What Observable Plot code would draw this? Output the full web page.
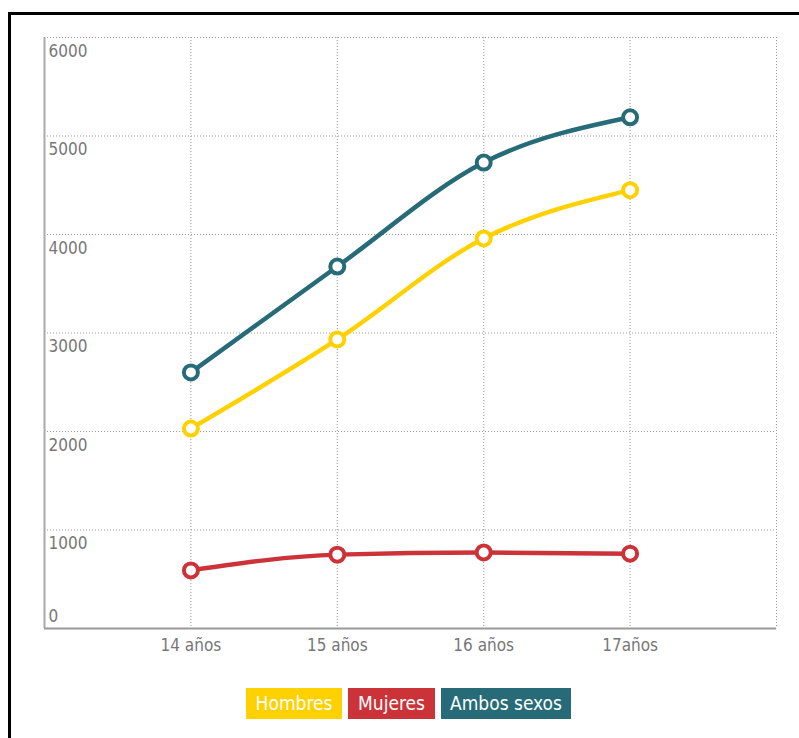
<!DOCTYPE html>
<html>
<head>
<meta charset="utf-8">
<script src="https://cdn.jsdelivr.net/npm/d3@7"></script>
<script src="https://cdn.jsdelivr.net/npm/@observablehq/plot@0.6"></script>
<style>
  html, body { margin: 0; padding: 0; background: #fff; width: 799px; height: 738px; overflow: hidden; }
  #frame { position: absolute; left: 8px; top: 12px; width: 900px; height: 900px; border: 3px solid #000; box-sizing: border-box; }
  #chart { position: absolute; left: 0; top: 0; }
  #legend { position: absolute; top: 688px; left: 246px; display: flex; gap: 6px; font-family: "DejaVu Sans Condensed", "Liberation Sans Narrow", sans-serif; font-stretch: condensed; font-size: 19px; color: #fff; }
  #legend div { height: 31px; line-height: 31px; text-align: center; }
</style>
</head>
<body>
<div id="frame"></div>
<div id="chart"></div>
<div id="legend"></div>
<script>
const ages = [14, 15, 16, 17];
const ageLabels = ["14 años", "15 años", "16 años", "17años"];
const hombres = [2030, 2935, 3960, 4450];
const mujeres = [590, 750, 772, 760];
const ambos = [2600, 3675, 4730, 5190];
const seriesNames = ["Hombres", "Mujeres", "Ambos sexos"];
const seriesColors = ["#FFD100", "#CC3339", "#266B77"];
const yTicks = [0, 1000, 2000, 3000, 4000, 5000, 6000];

const seriesValues = [hombres, mujeres, ambos];
const data = [];
seriesNames.forEach((s, i) => ages.forEach((a, j) => data.push({serie: s, age: a, value: seriesValues[i][j]})));

const font = "'DejaVu Sans Condensed', 'Liberation Sans Narrow', sans-serif";
const plot = Plot.plot({
  width: 799,
  height: 670,
  marginLeft: 44,
  marginRight: 23,
  marginTop: 37,
  marginBottom: 42,
  style: {fontFamily: font, fontSize: "16px", color: "#777", background: "transparent", fontStretch: "condensed"},
  x: {domain: [13, 18]},
  y: {domain: [0, 6000]},
  color: {domain: seriesNames, range: seriesColors},
  marks: [
    Plot.gridY(yTicks, {stroke: "#999", strokeOpacity: 1, strokeDasharray: "1,2"}),
    Plot.gridX([14, 15, 16, 17, 18], {stroke: "#999", strokeOpacity: 1, strokeDasharray: "1,2"}),
    Plot.ruleX([13], {stroke: "#aaa", strokeWidth: 2}),
    Plot.ruleY([0], {stroke: "#999", strokeWidth: 2}),
    Plot.axisY(yTicks.filter((d) => d > 0), {anchor: "left", tickSize: 0, tickPadding: 0, textAnchor: "start", dx: 4, dy: 14, fontSize: 17, fill: "#777", label: null, tickFormat: (d) => String(d)}),
    Plot.axisY([0], {anchor: "left", tickSize: 0, tickPadding: 0, textAnchor: "start", dx: 4, dy: -12, fontSize: 17, fill: "#777", label: null, tickFormat: (d) => String(d)}),
    Plot.axisX(ages, {anchor: "bottom", tickSize: 0, tickPadding: 10, fontSize: 17, tickFormat: (d) => ageLabels[ages.indexOf(d)], fill: "#777", label: null}),
    Plot.line(data, {x: "age", y: "value", z: "serie", stroke: "serie", strokeWidth: 4.5, curve: "monotone-x"}),
    Plot.dot(data, {x: "age", y: "value", stroke: "serie", fill: "#fff", r: 7, strokeWidth: 4})
  ]
});
document.getElementById("chart").appendChild(plot);

const widths = [96, 87, 130];
const legend = document.getElementById("legend");
seriesNames.forEach((s, i) => {
  const d = document.createElement("div");
  d.textContent = s;
  d.style.background = seriesColors[i];
  d.style.width = widths[i] + "px";
  legend.appendChild(d);
});
</script>
</body>
</html>
